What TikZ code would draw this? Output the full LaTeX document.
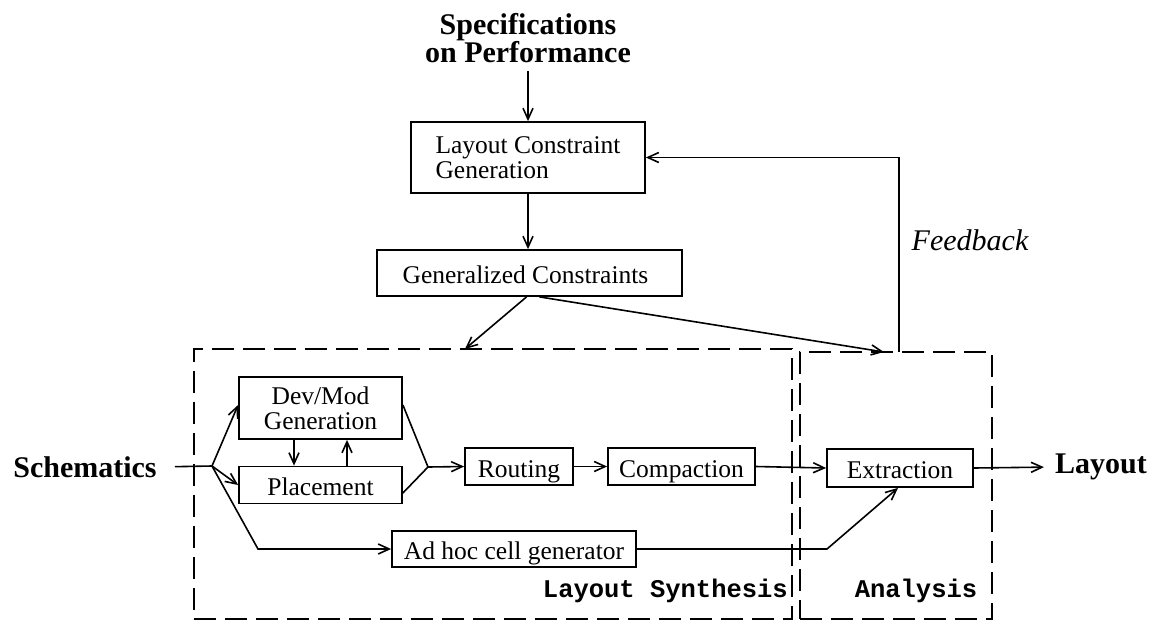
\documentclass[tikz,border=0pt]{standalone}
\usepackage{fontspec}
\setmainfont{Liberation Serif}
\setmonofont{Liberation Mono}
\usetikzlibrary{arrows.meta}
\newcommand\bodyfs{\fontsize{25.5}{25}\selectfont}
\newcommand\bigfs{\fontsize{30}{25}\selectfont\bfseries}
\newcommand\itfs{\fontsize{30}{30}\selectfont\itshape}
\newcommand\ttfs{\fontsize{25.5}{25}\selectfont\ttfamily\bfseries}
\begin{document}
\begin{tikzpicture}[x=1pt,y=-1pt,
  blk/.style={draw, line width=1.8pt, inner sep=2pt, font=\bodyfs},
  one/.style={text height=21pt, text depth=0pt},
  ln/.style={line width=1.6pt},
  arr/.style={line width=1.6pt, -{Straight Barb[length=11pt,width=10pt,line width=1.6pt]}},
  grp/.style={draw, dash pattern=on 22pt off 9pt, line width=1.8pt, inner sep=0},
  lbl/.style={inner sep=0}]
\useasboundingbox (0,0) rectangle (1157,622);

% groups
\node[grp, minimum width=598pt, minimum height=270pt] (syn) at (493,484) {};
\node[grp, minimum width=192pt, minimum height=267pt] (ana) at (896,485.5) {};
\node[lbl, font=\ttfs, anchor=east] (synl) at (788,591) {Layout Synthesis};
\node[lbl, font=\ttfs] (anal) at (916,591) {Analysis};

% text terminals
\node[lbl, font=\bigfs, align=center] (spec) at (528,38) {Specifications\\on Performance};
\node[lbl, font=\bigfs] (sch) at (85,467) {Schematics};
\node[lbl, font=\bigfs] (lay) at (1101,467) {Layout};
\node[lbl, font=\itfs] (fb) at (970,240) {Feedback};

% boxes
\node[blk, align=left, minimum width=234pt, minimum height=71pt] (lcg) at (528,157.5) {Layout Constraint\\Generation};
\node[blk, one, minimum width=305pt, minimum height=46pt] (gc) at (529.5,273) {Generalized Constraints\hspace*{8pt}};
\node[blk, align=center, minimum width=163pt, minimum height=62pt] (dev) at (320.5,408) {Dev/Mod\\Generation};
\node[blk, one, minimum width=163pt, minimum height=37pt] (plc) at (320.5,485) {Placement};
\node[blk, one, minimum width=108pt, minimum height=37pt] (rout) at (519,466.5) {Routing};
\node[blk, one, minimum width=147pt, minimum height=37pt] (comp) at (681.5,466.5) {Compaction};
\node[blk, one, minimum width=146pt, minimum height=38pt] (extr) at (900,468) {Extraction};
\node[blk, one, minimum width=244pt, minimum height=36pt] (adhoc) at (514,549) {Ad hoc cell generator};

% coordinates
\coordinate (J) at (212,466);
\coordinate (J2) at (428,467);
\coordinate (B1) at (258,549);
\coordinate (B2) at (827,549);
\coordinate (synin) at (465,349);
\coordinate (anin) at (884,352);
\coordinate (fbs) at (899,352);

% connectors
\draw[arr, shorten <=8pt] (spec.south) -- (lcg.north);
\draw[arr] (lcg.south) -- (lcg.south |- gc.north);
\draw[arr] ([xshift=-3pt]gc.south) -- (synin);
\draw[arr] ([xshift=10pt]gc.south) -- (anin);
\draw[arr] (fbs) |- (lcg.east);

\draw[ln, shorten <=18pt] (sch.east) -- (J);
\draw[arr] (J) -- ([yshift=3pt]dev.west);
\draw[arr] (J) -- (plc.west);
\draw[arr] (J) -- (B1) -- (adhoc.west);
\draw[arr] ([xshift=-26.5pt]dev.south) -- ([xshift=-26.5pt]plc.north);
\draw[arr] ([xshift=26.5pt]plc.north) -- ([xshift=26.5pt]dev.south);
\draw[ln] ([yshift=3pt]dev.east) -- (J2) -- ([yshift=-8pt]plc.east);
\draw[arr] (J2) -- (rout.west);
\draw[arr] (rout.east) -- (comp.west);
\draw[arr] (comp.east) -- (extr.west);
\draw[arr, shorten >=11pt] (extr.east) -- (lay.west);
\draw[arr] (adhoc.east) -- (B2) -- ([xshift=-2pt]extr.south);
\end{tikzpicture}
\end{document}
